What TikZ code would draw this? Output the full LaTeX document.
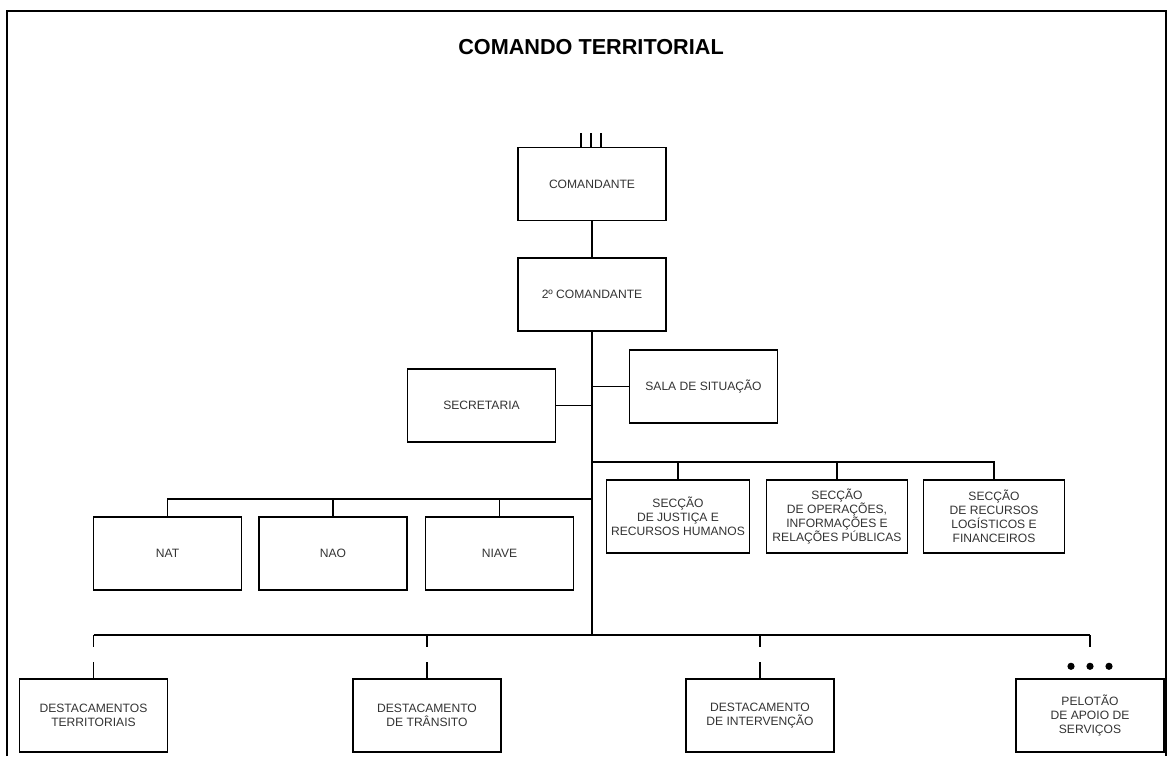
\documentclass[tikz,border=0pt]{standalone}
\usepackage{fontspec}
\setmainfont{Liberation Sans}
\definecolor{inkgray}{HTML}{333333}
\begin{document}
\begin{tikzpicture}[x=0.025cm, y=-0.025cm,
    unit/.style={draw=black, line width=1pt, rectangle, minimum width=3.7cm, minimum height=1.825cm, align=center, text=inkgray, font=\fontsize{8.6}{10}\selectfont},
    seccao/.style={unit, minimum width=3.52cm},
    wire/.style={black, line width=1pt}]
    \useasboundingbox (0,0) rectangle (1168,756);
    \draw[black, line width=1.4pt] (7,756) -- (7,11) -- (1166,11) -- (1166,756);
    \node[font=\bfseries\fontsize{15.4}{18}\selectfont] (titulo) at (591,47) {COMANDO TERRITORIAL};

    \node[unit] (cmd) at (592,184) {COMANDANTE};
    \node[unit] (cmd2) at (592,294.5) {2º COMANDANTE};
    \node[unit] (sala) at (703.5,386.5) {SALA DE SITUAÇÃO};
    \node[unit] (secr) at (481.5,405.5) {SECRETARIA};
    \node[seccao] (sjrh) at (678,516.5) {SECÇÃO\\DE JUSTIÇA E\\RECURSOS HUMANOS};
    \node[seccao] (sop) at (837,516.5) {SECÇÃO\\DE OPERAÇÕES,\\INFORMAÇÕES E\\RELAÇÕES PÚBLICAS};
    \node[seccao] (srlf) at (994,516.5) {SECÇÃO\\DE RECURSOS\\LOGÍSTICOS E\\FINANCEIROS};
    \node[unit] (nat) at (167.5,553.5) {NAT};
    \node[unit] (nao) at (333,553.5) {NAO};
    \node[unit] (niave) at (499.5,553.5) {NIAVE};
    \node[unit] (dt) at (93.5,715.5) {DESTACAMENTOS\\TERRITORIAIS};
    \node[unit] (dtr) at (427,715.5) {DESTACAMENTO\\DE TRÂNSITO};
    \node[unit] (dint) at (760,715.5) {DESTACAMENTO\\DE INTERVENÇÃO};
    \node[unit] (pel) at (1090,715.5) {PELOTÃO\\DE APOIO DE\\SERVIÇOS};

    \coordinate (secbus) at (592,462);
    \coordinate (nucbus) at (592,499);
    \coordinate (destbus) at (592,635);

    \foreach \dx in {-11,-1,9}
        \draw[wire] (cmd.north) ++(\dx,0) -- ++(0,-14);
    \draw[wire] (cmd.south) -- (cmd2.north);
    \draw[wire] (cmd2.south) -- (destbus);
    \draw[wire] (sala.west) -- (sala.west -| cmd2.south);
    \draw[wire] (secr.east) -- (secr.east -| cmd2.south);

    \draw[wire] (secbus) -| (srlf.north);
    \foreach \s in {sjrh,sop}
        \draw[wire] (\s.north |- secbus) -- (\s.north);
    \draw[wire] (nucbus) -| (nat.north);
    \foreach \s in {nao,niave}
        \draw[wire] (\s.north |- nucbus) -- (\s.north);

    \draw[wire] (dt.north |- destbus) -- (pel.north |- destbus);
    \foreach \s in {dt,dtr,dint,pel}
        \draw[wire] (\s.north |- destbus) -- ++(0,12);
    \foreach \s in {dt,dtr,dint}
        \draw[wire] (\s.north) -- ++(0,-16);
    \foreach \dx in {-19,0,19}
        \fill[black] (pel.north) ++(\dx,-12) circle (3.6);
\end{tikzpicture}
\end{document}
